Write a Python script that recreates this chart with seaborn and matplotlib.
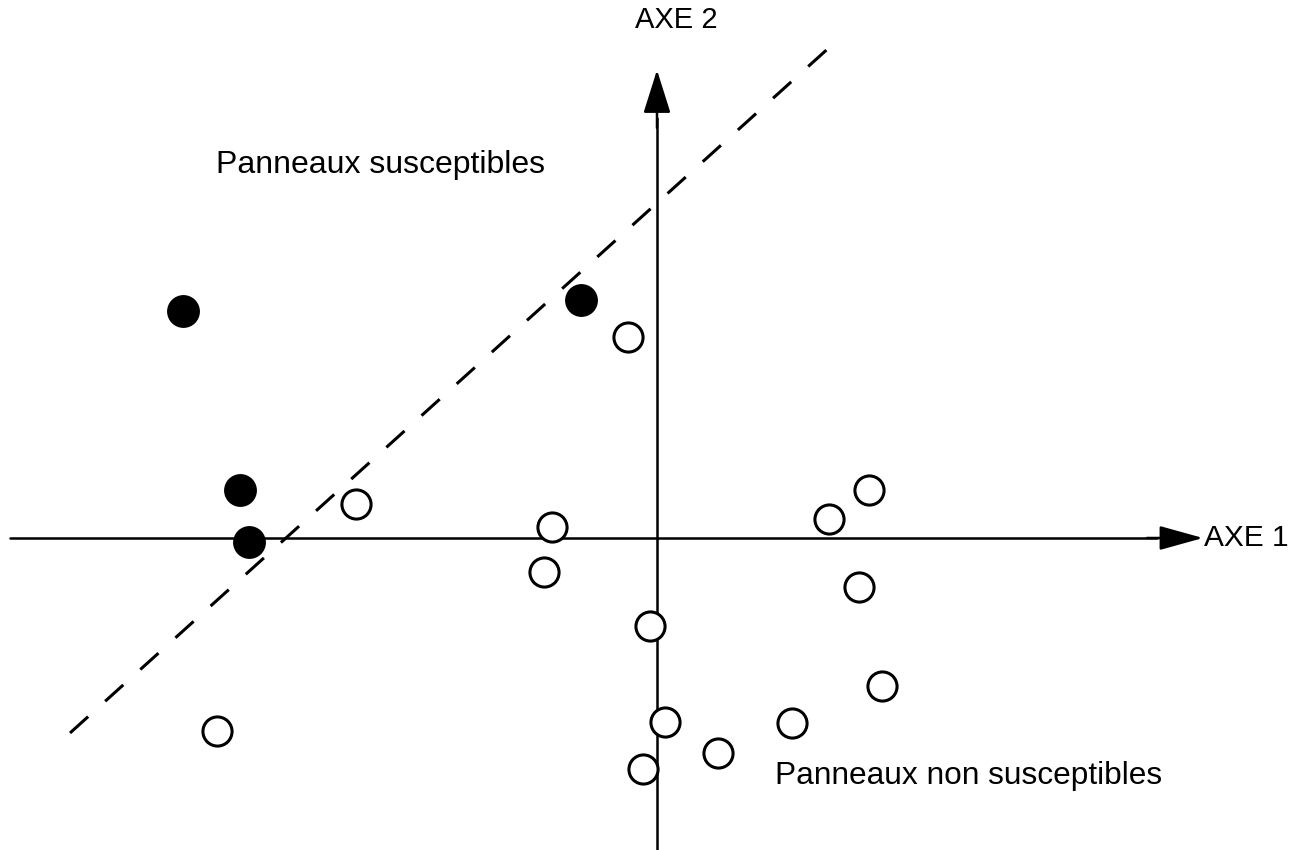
import numpy as np
import pandas as pd
import matplotlib
matplotlib.use('Agg')
import matplotlib.pyplot as plt
import seaborn as sns

# Coordonnées des panneaux sur le plan factoriel (AXE 1, AXE 2)
axe1_susc = [-4.74, -4.17, -4.08, -0.76]
axe2_susc = [2.27, 0.48, -0.04, 2.38]

axe1_non = [-0.29, -3.01, -1.05, -1.13, -0.07, 1.72, 2.12, 2.02, 2.25, 1.35, 0.61, 0.08, -0.14, -4.40]
axe2_non = [2.01, 0.34, 0.11, -0.34, -0.88, 0.19, 0.48, -0.49, -1.48, -1.85, -2.15, -1.84, -2.31, -1.93]

# Droite de séparation (pointillés)
sep_x = [-5.87, 1.75]
sep_y = [-1.95, 4.93]

df = pd.DataFrame({
    'axe1': axe1_susc + axe1_non,
    'axe2': axe2_susc + axe2_non,
    'groupe': ['susceptible'] * len(axe1_susc) + ['non'] * len(axe1_non),
})

sns.set_style('white')
plt.rcParams['font.family'] = ['Liberation Sans', 'DejaVu Sans']
plt.rcParams['text.color'] = 'black'

fig = plt.figure(figsize=(12.94, 8.5), dpi=100)
ax = fig.add_axes([0, 0, 1, 1])
ax.set_xlim(-6.57, 6.37)
ax.set_ylim(-3.12, 5.38)
ax.axis('off')

# axes avec flèches
ax.plot([-6.47, 5.0], [0, 0], color='black', lw=1.8, zorder=1)
ax.annotate('', xy=(5.46, 0), xytext=(4.9, 0),
            arrowprops=dict(arrowstyle='-|>,head_length=2.7,head_width=0.75',
                            color='black', lw=1.8, shrinkA=0, shrinkB=0))
ax.plot([0, 0], [-3.12, 4.2], color='black', lw=1.8, zorder=1)
ax.annotate('', xy=(0, 4.68), xytext=(0, 4.1),
            arrowprops=dict(arrowstyle='-|>,head_length=2.7,head_width=0.85',
                            color='black', lw=1.8, shrinkA=0, shrinkB=0))

ax.plot(sep_x, sep_y, color='black', lw=2.2, ls=(0, (8, 7.5)), zorder=1)

sns.scatterplot(data=df[df.groupe == 'susceptible'], x='axe1', y='axe2', ax=ax,
                s=560, color='black', edgecolor='black', linewidth=0, legend=False, zorder=3)
sns.scatterplot(data=df[df.groupe == 'non'], x='axe1', y='axe2', ax=ax,
                s=440, facecolor='white', edgecolor='black', linewidth=2.2, legend=False, zorder=3)

ax.text(0.19, 5.18, 'AXE 2', fontsize=21, ha='center', va='center')
ax.text(5.47, 0.0, 'AXE 1', fontsize=21.5, ha='left', va='center')
ax.text(-2.77, 3.73, 'Panneaux susceptibles', fontsize=23, ha='center', va='center')
ax.text(3.12, -2.38, 'Panneaux non susceptibles', fontsize=22.8, ha='center', va='center')

plt.savefig('out.png', dpi=100)
